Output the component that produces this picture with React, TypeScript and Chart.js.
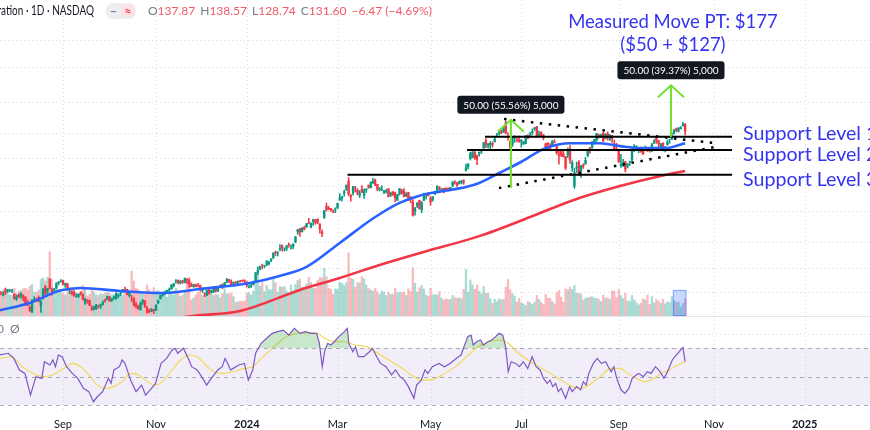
import React, { useEffect, useRef } from 'react';
import { Chart, registerables } from 'chart.js';
Chart.register(...registerables);

// ---------- data ----------
// x = trading-day index, day 0 = 1 Sep 2023. First candle = 25 Jul 2023 (day -28).
const FIRST_DAY = -28;
// [open, high, low, close]
const candles: number[][] = [
  // Jul 2023 (5)
  [45.7,46.3,45.1,45.6],[45.2,46.1,44.9,45.5],[46.8,47.3,45.3,45.9],[46.4,46.9,45.8,46.7],[46.7,46.9,46.1,46.7],
  // Aug 2023 (23)
  [46.4,46.9,45.9,46.5],[45.5,45.6,43.9,44.2],[44.0,45.2,43.6,44.7],[45.1,45.6,44.4,44.7],[45.1,45.9,44.2,45.5],
  [45.0,45.2,43.5,44.6],[44.6,44.7,42.3,42.5],[43.1,43.8,42.1,42.3],[41.7,42.1,40.6,40.9],[40.4,43.8,40.3,43.7],
  [43.8,44.7,43.2,43.9],[43.7,44.3,43.4,43.5],[44.5,44.9,43.2,43.3],[42.1,43.6,40.3,43.3],[44.4,47.1,44.0,46.9],
  [47.7,48.1,45.3,45.6],[46.3,47.2,45.6,47.2],[50.2,50.2,47.0,47.1],[46.6,47.3,45.1,46.1],[46.7,47.2,46.0,46.9],
  [47.3,49.0,47.1,48.7],[48.9,49.3,48.3,49.2],[49.3,50.0,49.1,49.4],
  // Sep 2023 (20)
  [49.7,49.8,48.2,48.5],[48.3,48.9,47.5,48.5],[48.7,48.8,46.5,47.1],[46.2,46.8,45.6,46.2],[46.0,46.5,45.2,45.5],
  [46.0,46.4,44.8,45.1],[44.8,45.5,44.5,44.8],[44.8,45.6,44.4,45.4],[46.0,46.2,45.1,45.6],[45.4,45.5,43.7,43.9],
  [42.8,44.3,42.5,43.9],[43.8,43.8,42.8,43.6],[43.6,43.7,42.2,42.2],[41.6,42.1,40.9,41.0],[41.3,42.0,41.0,41.6],
  [41.2,42.5,41.1,42.3],[42.0,42.3,41.5,41.9],[42.2,42.6,41.4,42.5],[42.5,43.5,42.3,43.0],[43.8,44.0,43.1,43.5],
  // Oct 2023 (22)
  [44.0,44.9,43.8,44.8],[44.6,44.8,43.3,43.5],[43.6,44.2,43.3,44.1],[44.3,44.9,43.9,44.6],[44.1,45.8,43.9,45.7],
  [44.9,45.5,44.4,45.3],[45.6,46.0,45.0,45.7],[46.3,46.9,45.9,46.9],[47.0,47.6,46.5,46.9],[46.8,46.9,45.2,45.4],
  [45.0,46.1,44.6,46.0],[44.0,45.1,43.3,43.9],[43.9,44.5,42.0,42.2],[42.5,43.1,41.5,42.1],[42.0,42.2,41.1,41.3],
  [41.1,43.2,40.9,42.9],[43.1,43.9,42.5,43.6],[43.5,43.6,41.7,41.8],[41.4,41.9,40.1,40.3],[40.8,41.2,40.2,40.5],
  [40.7,41.4,40.5,41.1],[41.0,41.1,40.0,40.8],
  // Nov 2023 (21)
  [40.9,42.4,40.8,42.3],[42.9,43.7,42.7,43.5],[44.1,45.1,44.0,45.0],[45.0,45.8,44.8,45.7],[45.9,46.2,45.3,46.0],
  [46.1,46.7,45.9,46.6],[46.9,47.3,46.3,46.9],[47.0,48.3,46.9,48.3],[48.0,48.8,47.6,48.6],[49.5,50.0,48.8,49.6],
  [49.7,49.9,48.6,48.9],[49.0,49.7,48.5,49.4],[49.6,49.7,48.7,49.2],[49.0,50.5,48.9,50.4],[50.1,50.3,48.7,49.9],
  [49.6,50.2,47.5,48.7],[48.4,48.9,47.7,47.8],[47.8,48.5,47.5,48.3],[48.3,48.5,47.6,47.8],[48.2,48.8,47.6,48.1],
  [48.1,48.2,46.3,46.8],
  // Dec 2023 (20)
  [46.6,46.9,45.9,46.8],[45.6,45.6,44.7,45.5],[45.2,46.6,45.0,46.6],[46.8,46.9,45.5,45.5],[46.0,46.6,45.7,46.5],
  [46.0,47.6,45.9,47.5],[47.4,47.5,46.1,46.6],[46.3,47.7,46.2,47.6],[48.0,48.3,47.4,48.1],[48.4,48.6,47.1,48.3],
  [48.0,49.1,47.8,48.9],[49.2,50.4,49.0,50.0],[50.0,50.1,49.0,49.6],[49.3,49.9,48.1,48.1],[48.8,49.2,48.0,49.0],
  [49.1,49.4,48.5,48.8],[48.9,49.6,48.5,49.3],[49.5,49.7,49.1,49.4],[49.6,49.9,49.3,49.5],[49.8,49.9,48.8,49.5],
  // Jan 2024 (21)
  [49.2,49.3,47.6,48.2],[47.5,48.2,47.3,47.6],[47.8,48.5,47.5,48.0],[48.5,49.5,48.2,49.1],[49.5,52.3,49.5,52.3],
  [52.5,54.3,51.7,53.1],[53.6,54.6,53.2,54.3],[54.9,55.3,53.6,54.8],[54.6,54.9,54.0,54.7],[55.0,56.6,54.7,56.4],
  [55.5,56.3,55.0,56.0],[56.6,57.3,56.2,57.1],[57.7,59.5,57.3,59.5],[59.8,60.2,58.5,59.6],[59.5,59.9,58.3,59.9],
  [61.0,62.8,60.4,61.3],[62.3,62.7,60.2,61.6],[60.9,61.5,60.2,61.0],[61.3,62.5,60.4,62.4],[62.9,63.4,61.8,62.8],
  [61.4,62.7,61.0,61.5],
  // Feb 2024 (20)
  [62.1,63.2,61.2,63.0],[64.0,66.2,63.6,66.1],[68.2,69.4,67.1,69.3],[69.6,69.9,66.3,68.2],[68.3,70.2,68.2,70.0],
  [70.2,70.9,69.2,69.6],[70.5,72.1,70.3,72.1],[72.6,74.6,72.0,72.3],[70.4,72.4,70.0,72.1],[73.2,74.2,71.2,73.9],
  [73.9,74.0,71.7,72.6],[74.1,74.4,72.0,72.6],[71.9,71.9,67.7,69.4],[68.2,69.2,66.2,67.5],[75.0,78.5,74.5,78.5],
  [80.7,82.4,78.2,78.9],[79.7,80.6,78.9,79.1],[79.3,79.6,78.0,78.7],[77.9,78.9,77.4,77.6],[79.0,79.9,77.4,79.1],
  // Mar 2024 (20)
  [80.0,82.3,79.4,82.3],[84.1,87.7,83.9,85.2],[85.2,86.1,83.4,85.9],[88.0,89.7,86.2,88.7],[90.2,92.7,89.5,92.7],
  [95.2,97.4,86.5,87.5],[86.4,87.2,83.4,85.8],[88.0,91.9,86.8,91.9],[91.0,91.9,88.6,90.9],[89.5,90.6,86.8,87.9],
  [86.9,89.5,85.4,87.9],[90.3,92.4,88.4,88.4],[86.7,90.5,85.0,89.4],[89.8,90.4,88.3,90.4],[92.5,92.8,90.8,91.4],
  [91.1,94.7,91.0,94.3],[93.9,96.8,93.9,95.0],[95.8,96.4,92.5,92.6],[93.1,93.2,89.3,90.3],[90.0,91.2,89.2,90.4],
  // Apr 2024 (22)
  [90.3,92.3,89.3,90.3],[88.4,89.5,87.7,89.4],[88.5,90.3,88.1,88.9],[90.4,90.7,85.8,85.9],[86.9,88.5,86.0,88.0],
  [88.7,88.8,86.5,87.1],[88.1,88.5,83.0,85.3],[83.9,87.3,83.8,87.0],[87.4,90.7,86.8,90.6],[89.7,90.1,87.4,88.1],
  [89.1,90.6,85.8,86.0],[86.5,88.2,86.0,87.4],[88.3,88.4,83.8,84.0],[84.9,86.1,82.6,84.7],[83.1,84.3,75.6,76.2],
  [78.1,80.1,76.2,79.5],[80.9,82.7,80.0,82.4],[83.9,84.0,79.1,79.6],[78.9,83.3,77.4,82.6],[83.9,88.0,83.7,87.7],
  [87.5,88.0,84.5,87.7],[87.2,88.2,86.4,86.4],
  // May 2024 (22)
  [85.0,86.0,81.2,83.0],[84.5,86.0,83.4,85.8],[87.8,89.2,87.1,88.8],[89.0,92.2,88.9,92.1],[91.0,91.8,89.7,90.6],
  [89.5,90.8,89.0,90.4],[90.7,90.8,88.1,88.7],[90.6,91.2,89.3,89.9],[90.7,91.0,89.2,90.4],[90.0,91.4,89.2,91.3],
  [92.2,94.8,91.8,94.6],[94.5,95.5,93.2,94.4],[94.3,94.4,91.9,92.5],[93.8,95.2,93.2,94.8],[94.3,95.4,93.4,95.4],
  [95.4,96.0,93.2,94.9],[102.0,106.3,101.5,103.8],[104.4,106.5,103.0,106.5],[110.2,114.9,109.2,114.0],[111.3,115.5,110.8,115.0],
  [114.7,115.8,109.7,110.5],[112.5,112.7,106.0,109.6],
  // Jun 2024 (19)
  [113.6,115.0,112.0,115.0],[115.7,116.6,114.0,116.4],[118.4,122.4,117.5,122.4],[124.0,125.6,118.3,120.9],[119.8,121.7,118.0,120.9],
  [120.4,123.1,117.0,121.8],[121.8,122.9,118.7,120.9],[123.1,126.9,122.8,125.2],[129.4,129.8,127.1,129.6],[129.9,132.9,128.7,131.9],
  [132.0,133.7,129.6,131.0],[131.1,136.3,130.7,135.6],[139.8,140.8,129.5,130.8],[127.1,130.6,124.3,126.6],[123.2,124.5,118.0,118.1],
  [121.2,126.5,119.3,126.1],[126.1,128.1,122.6,126.4],[124.1,126.4,122.9,124.0],[124.6,127.7,122.6,123.5],
  // Jul 2024 (22)
  [123.5,124.8,118.8,124.3],[121.1,123.4,121.0,122.7],[121.7,128.3,121.4,128.3],[127.4,128.9,125.7,125.8],[127.5,130.8,127.0,128.2],
  [130.4,133.8,128.7,131.4],[134.0,135.1,132.4,134.9],[135.8,136.2,127.0,127.4],[128.3,131.9,127.2,129.2],[130.6,131.4,127.2,128.4],
  [128.4,129.0,124.6,126.4],[121.4,121.9,116.7,118.0],[121.9,122.4,116.7,121.1],[120.3,121.6,117.4,117.9],[120.4,124.1,119.9,123.5],
  [122.8,124.7,122.1,122.6],[119.2,119.9,113.4,114.3],[113.0,116.6,106.3,112.3],[116.2,116.2,111.6,113.1],[113.7,116.3,111.3,111.6],
  [111.5,111.9,102.5,103.7],[112.9,118.3,110.9,117.0],
  // Aug 2024 (22)
  [117.5,120.2,106.8,109.2],[103.8,108.7,101.4,107.3],[92.1,103.4,90.7,100.5],[103.8,107.7,100.6,104.3],[107.8,108.8,98.7,98.9],
  [102.0,105.5,97.5,105.0],[105.6,106.6,103.4,104.8],[106.3,111.1,106.3,109.0],[112.4,116.2,111.6,116.1],[118.5,118.6,114.1,118.1],
  [118.8,123.2,117.7,122.9],[121.9,125.0,121.2,124.6],[124.3,130.0,123.4,130.0],[128.4,129.3,126.0,127.3],[127.3,129.4,126.5,128.5],
  [130.0,130.8,123.1,123.7],[125.9,129.6,125.2,129.4],[129.6,131.3,124.4,126.5],[125.1,129.2,123.9,128.3],[128.1,128.3,122.6,125.6],
  [121.4,124.4,116.7,117.6],[119.5,121.8,117.2,119.4],
  // Sep 2024 (20)
  [116.0,116.2,107.3,108.0],[105.4,113.3,104.1,106.2],[105.0,109.7,104.8,107.2],[108.0,108.2,101.0,102.8],[104.9,106.6,103.7,106.5],
  [107.8,108.4,105.4,108.1],[109.4,117.2,107.4,116.9],[116.8,120.8,115.4,119.1],[119.1,120.0,117.6,119.1],[116.8,118.2,114.4,117.0],
  [118.2,118.8,114.8,115.6],[115.9,117.7,113.2,113.4],[117.4,119.7,117.2,117.9],[117.1,118.6,115.4,116.0],[116.6,117.0,114.9,116.3],
  [116.5,121.8,115.4,120.9],[122.0,124.9,121.6,123.5],[126.8,127.7,121.8,124.0],[124.0,124.0,119.3,121.4],[118.3,121.5,118.2,121.4],
  // Oct 2024 (11)
  [121.8,122.4,115.8,117.0],[116.4,119.4,115.1,118.85],[120.9,124.4,120.3,122.85],[124.9,125.0,121.8,124.9],[125.0,130.6,124.9,127.7],
  [130.3,133.5,129.4,132.9],[134.1,134.5,131.4,132.65],[131.9,135.0,131.0,134.8],[134.0,135.8,133.7,134.8],[136.5,139.6,136.3,138.07],
  [137.87,138.57,128.74,131.6],
];

// daily volume, millions of shares
const volumes: number[] = [
  360,470,430,390,380,
  370,500,400,450,460,490,500,470,540,570,430,430,470,660,690,630,700,1160,660,400,550,480,450,
  410,380,430,450,470,480,420,380,360,550,490,360,390,490,440,380,370,400,390,410,
  430,410,380,390,400,370,360,380,430,480,370,810,630,500,480,410,410,400,560,470,420,510,
  440,460,420,400,460,340,450,440,380,500,450,350,380,450,650,700,290,330,380,430,420,
  370,440,370,400,390,370,390,380,330,410,490,400,400,420,350,250,250,270,260,270,
  410,420,380,450,640,770,540,600,440,550,480,470,690,600,430,530,520,530,450,410,560,
  450,570,640,670,520,520,580,700,600,500,500,640,700,690,860,710,500,480,390,490,
  480,610,590,550,610,1140,680,660,520,600,600,710,670,560,500,470,450,500,430,390,
  450,430,370,430,390,390,500,420,430,420,430,370,490,440,870,590,430,510,550,490,380,360,
  500,380,390,380,440,320,290,310,300,300,370,330,320,330,310,480,840,430,650,560,480,560,
  450,400,530,410,410,310,230,300,260,310,290,300,520,660,470,400,360,250,320,
  240,220,190,260,240,210,250,370,300,250,210,390,320,320,260,220,420,460,340,250,490,470,
  520,480,550,410,410,390,290,320,330,340,350,320,320,300,260,380,320,330,300,450,450,330,
  480,370,310,410,270,270,370,290,240,200,230,310,290,380,210,350,240,300,270,230,
  300,220,260,240,350,280,250,250,170,230,310,
];

// 50-day and 200-day moving averages [day, value]
const ma50: number[][] = [
  [-28.5,40.9],[-15,42.9],[-1.4,46.5],[8,47.3],[26,46.4],[46,45.8],[62,47.0],[84.5,48.9],[97,51],[110,54.3],
  [125,63.5],[140,74.5],[152,82.5],[161,86.5],[170,88.8],[182,91.5],[188,94],[197,100.3],[206,107.1],
  [218,118.0],[229,121.9],[242.5,121.9],[251.6,119.6],[260.6,118.0],[271.9,118.0],[281,121.9],
];
const ma200: number[][] = [
  [40,37.8],[58.7,39.4],[80,40.7],[107,46.7],[125,50.5],[143,55.0],[161,59.4],[188,66.4],[211,75.2],
  [230.4,84.0],[251.6,92.1],[271.9,99.0],[281,101.6],
];

// RSI(14) and its moving average [day, value]
const rsi: number[][] = [
  [-28.5,65.1],[-24.7,66.3],[-22.2,62.7],[-19.7,54.6],[-17.2,52.2],[-14.7,37.0],[-12.2,49.9],[-9.6,48.7],[-8.4,60.4],
  [-5.9,58.1],[-4.6,61.6],[-3.4,56.9],[-2.1,65.1],[-0.4,63.9],[1.6,56.9],[4.2,52.2],[6.7,48.7],[9.2,41.7],[11.7,39.4],
  [13.7,32.3],[15.5,35.8],[17.9,39.4],[20.5,48.7],[21.7,45.2],[23.0,54.6],[25.5,56.9],[26.7,61.6],[28.0,59.2],[30.5,47.5],
  [33.0,39.4],[35.5,44.0],[37.3,37.0],[39.3,40.5],[41.8,45.2],[44.3,59.2],[46.8,62.7],[49.3,68.6],[50.6,69.8],[51.8,66.3],
  [54.4,69.8],[56.9,61.6],[58.1,56.9],[60.6,54.6],[63.1,48.7],[64.9,44.0],[66.4,47.5],[68.2,51.1],[69.9,54.6],[71.9,56.9],
  [73.2,62.7],[74.4,59.2],[75.7,54.6],[76.9,55.7],[79.4,58.1],[81.9,59.2],[83.7,47.5],[85.7,54.6],[87.0,66.3],[89.5,73.3],
  [92.0,76.8],[94.5,80.3],[97.0,81.5],[99.5,82.6],[102.0,79.1],[104.5,83.8],[107.0,80.3],[109.5,81.5],[112.1,80.3],[114.6,80.3],
  [115.8,73.3],[117.1,56.9],[118.3,68.6],[119.6,73.3],[120.9,72.1],[122.1,73.7],[124.6,78.0],[127.1,81.5],[128.4,83.8],[129.1,73.3],
  [130.9,67.4],[132.1,70.9],[133.4,63.9],[135.9,63.9],[138.4,67.4],[139.7,69.8],[141.7,63.9],[143.4,59.2],[145.9,56.9],[148.4,51.1],
  [150.2,54.6],[152.2,49.9],[154.2,47.5],[156.0,42.9],[158.5,34.7],[159.7,44.0],[161.8,47.5],[163.5,54.6],[164.8,52.2],[166.8,56.9],
  [169.8,59.2],[172.3,56.9],[174.8,59.2],[176.8,61.6],[178.6,63.9],[179.8,65.1],[181.1,70.9],[182.8,78.0],[184.3,79.1],[185.3,72.1],
  [186.8,74.4],[188.6,75.6],[189.9,72.1],[191.9,74.4],[193.6,75.6],[195.4,78.0],[196.9,80.3],[198.6,79.1],[199.9,70.9],[201.1,53.4],
  [202.4,60.4],[204.4,59.2],[206.2,56.9],[207.9,60.4],[209.9,55.7],[211.9,63.9],[213.7,56.9],[215.5,54.6],[217.0,48.7],[218.7,45.2],
  [220.0,47.5],[221.2,42.9],[222.5,45.2],[223.7,39.4],[225.0,41.7],[227.0,34.7],[228.8,42.9],[230.0,39.4],[232.0,42.9],[233.8,40.5],
  [235.0,46.4],[236.3,44.0],[237.5,52.2],[239.5,59.2],[241.3,62.7],[243.1,59.2],[245.1,60.4],[246.3,56.9],[247.6,53.4],[248.8,56.9],
  [250.1,48.7],[252.1,40.5],[253.8,38.2],[255.6,41.7],[257.1,48.7],[258.9,51.1],[260.1,52.2],[262.1,49.9],[263.9,53.4],[265.6,52.2],
  [267.6,56.9],[269.7,53.4],[271.4,48.7],[272.7,52.2],[275.2,61.6],[276.4,63.9],[277.7,66.3],[280,70.5],[281,60.4],
];
const rsiMa: number[][] = [
  [-28.5,62.7],[-23.4,63.9],[-18.4,56.9],[-13.4,52.2],[-8.4,49.9],[-3.4,52.2],[1.6,56.9],[4.2,59.2],[7.9,56.9],[11.7,51.1],
  [15.5,44.0],[19.2,41.7],[23.0,42.9],[26.7,46.4],[30.5,52.2],[34.3,51.1],[38.0,46.4],[41.8,44.0],[45.6,47.5],[49.3,54.6],
  [53.1,61.6],[56.9,65.1],[60.6,63.9],[64.4,58.1],[68.2,53.4],[71.9,52.2],[76.9,53.4],[81.9,55.7],[85.7,56.9],[88.2,60.4],
  [92.0,66.3],[97.0,73.3],[100.8,78.0],[105.8,80.3],[110.8,80.8],[114.6,80.3],[118.3,76.8],[122.1,74.4],[127.1,74.4],[132.1,72.1],
  [137.2,70.9],[142.2,66.3],[147.2,61.6],[152.2,56.9],[157.2,51.1],[162.3,47.5],[167.3,48.0],[172.3,52.2],[177.3,56.9],[182.3,63.9],
  [187.4,70.9],[192.4,74.4],[197.4,75.6],[201.1,73.3],[204.9,67.4],[209.9,61.6],[215.0,56.9],[220.0,52.2],[225.0,47.5],[230.0,42.9],
  [233.8,41.7],[237.5,44.0],[242.6,49.9],[247.6,55.7],[251.3,55.7],[255.1,52.2],[258.9,48.7],[262.6,46.4],[266.4,48.0],[270.2,52.2],
  [273.9,54.6],[277.7,58.1],[281,60.4],
];

// time axis
const monthTickDays = [0, 42, 83, 124, 166, 207, 251, 294, 335];
const monthTickLabels = ['Sep', 'Nov', '2024', 'Mar', 'May', 'Jul', 'Sep', 'Nov', '2025'];
const priceGrid = [240, 200, 160, 130, 111, 92, 78, 64, 54, 46];

// drawings
const supportPrices = [127.1, 116.5, 99.1];
const supportStartDays = [190.6, 182.5, 128.5];
const supportEndDay = 302.2;
const supportLabels = ['Support Level 1', 'Support Level 2', 'Support Level 3'];
const trendUpper: number[][] = [[199.2, 142.7], [294.5, 122.0]];
const trendLower: number[][] = [[196.9, 90.9], [294.5, 118.9]];
const moveDays = [202.3, 274.6];
const moveFrom = [91, 127];
const moveTo = [142, 178];
const moveLabels = ['50.00 (55.56%) 5,000', '50.00 (39.37%) 5,000'];
const targetText = ['Measured Move PT: $177', '($50 + $127)'];
const highlightDays = [275.5, 281.6];
const highlightVolume = 470;
const symbolTitle = 'NVIDIA Corporation · 1D · NASDAQ';

// ---------- scale ranges ----------
const X_MIN = -28.46, X_MAX = 364.5;
const PRICE_MIN = 39.39, PRICE_MAX = 310.8;
const VOL_MAX = 5700;
const RSI_MIN = 25.1, RSI_MAX = 92.46;

const UP = '#089981', DOWN = '#f23645';
const BLUE_TXT = '#3434f0';
const ARROW = '#6fe02f';
const FONT = 'Lato, "Liberation Sans", sans-serif';

function roundRect(ctx: CanvasRenderingContext2D, x: number, y: number, w: number, h: number, r: number) {
  ctx.beginPath();
  ctx.moveTo(x + r, y);
  ctx.lineTo(x + w - r, y);
  ctx.quadraticCurveTo(x + w, y, x + w, y + r);
  ctx.lineTo(x + w, y + h - r);
  ctx.quadraticCurveTo(x + w, y + h, x + w - r, y + h);
  ctx.lineTo(x + r, y + h);
  ctx.quadraticCurveTo(x, y + h, x, y + h - r);
  ctx.lineTo(x, y + r);
  ctx.quadraticCurveTo(x, y, x + r, y);
  ctx.closePath();
}

export default function App() {
  const priceRef = useRef<HTMLCanvasElement>(null);
  const rsiRef = useRef<HTMLCanvasElement>(null);

  useEffect(() => {
    const days = candles.map((_, i) => FIRST_DAY + i);
    const isUp = candles.map((c) => c[3] >= c[0]);
    const candleColors = isUp.map((u) => (u ? UP : DOWN));
    const volColors = isUp.map((u) => (u ? 'rgba(8,153,129,0.35)' : 'rgba(242,54,69,0.35)'));
    const pts = (arr: number[][]) => arr.map((p) => ({ x: p[0], y: p[1] }));

    const supportSets = supportPrices.map((p, i) => ({
      type: 'line' as const,
      data: [{ x: supportStartDays[i], y: p }, { x: supportEndDay, y: p }],
      borderColor: '#000000',
      borderWidth: 2,
      pointRadius: 0,
      yAxisID: 'y',
      order: 1,
    }));

    const pricePlugin = {
      id: 'priceDeco',
      beforeDatasetsDraw(chart: any) {
        const { ctx, scales } = chart;
        const x = scales.x, y = scales.y;
        ctx.save();
        ctx.strokeStyle = 'rgba(170,176,194,0.45)';
        ctx.lineWidth = 1;
        ctx.setLineDash([1, 3]);
        priceGrid.forEach((p) => {
          const py = Math.round(y.getPixelForValue(p)) + 0.5;
          ctx.beginPath(); ctx.moveTo(0, py); ctx.lineTo(870, py); ctx.stroke();
        });
        monthTickDays.forEach((d) => {
          const px = Math.round(x.getPixelForValue(d)) + 0.5;
          ctx.beginPath(); ctx.moveTo(px, 0); ctx.lineTo(px, 316); ctx.stroke();
        });
        ctx.restore();
      },
      afterDatasetsDraw(chart: any) {
        const { ctx, scales } = chart;
        const x = scales.x, y = scales.y, yv = scales.yv;
        ctx.save();
        // volume highlight
        const hx0 = x.getPixelForValue(highlightDays[0]);
        const hx1 = x.getPixelForValue(highlightDays[1]);
        const hy = yv.getPixelForValue(highlightVolume);
        const hb = yv.getPixelForValue(0);
        ctx.fillStyle = 'rgba(41,98,255,0.25)';
        ctx.fillRect(hx0, hy, hx1 - hx0, hb - hy);
        ctx.strokeStyle = 'rgba(41,98,255,0.45)';
        ctx.lineWidth = 1;
        ctx.strokeRect(hx0 + 0.5, hy + 0.5, hx1 - hx0 - 1, hb - hy - 1);

        // measured move arrows + labels
        moveDays.forEach((d, i) => {
          const px = x.getPixelForValue(d);
          const y0 = y.getPixelForValue(moveFrom[i]);
          const y1 = y.getPixelForValue(moveTo[i]);
          ctx.strokeStyle = ARROW;
          ctx.lineWidth = 2;
          ctx.setLineDash([]);
          ctx.beginPath(); ctx.moveTo(px, y0); ctx.lineTo(px, y1); ctx.stroke();
          ctx.beginPath();
          ctx.moveTo(px - 13, y1 + 12); ctx.lineTo(px, y1); ctx.lineTo(px + 13, y1 + 12);
          ctx.stroke();
          // label box
          ctx.font = `10px ${FONT}`;
          const bw = Math.max(98, ctx.measureText(moveLabels[i]).width + 12), bh = 18;
          const by = y1 - 6 - bh;
          ctx.fillStyle = '#131722';
          roundRect(ctx, px - bw / 2, by, bw, bh, 3);
          ctx.fill();
          ctx.fillStyle = '#ffffff';
          ctx.textAlign = 'center';
          ctx.textBaseline = 'middle';
          ctx.fillText(moveLabels[i], px, by + bh / 2 + 0.5);
        });

        // target text
        const tx = x.getPixelForValue(moveDays[1]) + 2;
        ctx.fillStyle = BLUE_TXT;
        ctx.font = `18.5px ${FONT}`;
        ctx.textAlign = 'center';
        ctx.textBaseline = 'alphabetic';
        ctx.fillText(targetText[0], tx, 28);
        ctx.fillText(targetText[1], tx, 51);

        // support labels
        const offs = [3, 11, 11];
        ctx.font = `19.6px ${FONT}`;
        ctx.textAlign = 'left';
        supportPrices.forEach((p, i) => {
          const lx = x.getPixelForValue(supportEndDay) + 11;
          const ly = y.getPixelForValue(p) + offs[i];
          ctx.fillText(supportLabels[i], lx, ly);
        });

        // header (title, horizontally condensed like the narrow UI font)
        ctx.textBaseline = 'middle';
        ctx.font = `12.5px ${FONT}`;
        ctx.fillStyle = '#131722';
        ctx.textAlign = 'right';
        ctx.save();
        ctx.translate(94, 11);
        ctx.scale(0.8, 1);
        ctx.fillText(symbolTitle, 0, 0);
        ctx.restore();
        // pill
        ctx.fillStyle = '#eceef2';
        roundRect(ctx, 106, 3, 30, 16, 8);
        ctx.fill();
        ctx.fillStyle = '#fbe3e5';
        roundRect(ctx, 121, 4, 14, 14, 7);
        ctx.fill();
        ctx.textAlign = 'center';
        ctx.font = `bold 12px ${FONT}`;
        ctx.fillStyle = '#787b86';
        ctx.fillText('−', 113.5, 11);
        ctx.fillStyle = DOWN;
        ctx.fillText('≈', 128, 11);
        // OHLC
        const last = candles[candles.length - 1];
        const prev = candles[candles.length - 2][3];
        const chg = last[3] - prev;
        const pct = (chg / prev) * 100;
        const parts: [string, string][] = [
          ['O', last[0].toFixed(2)], ['H', last[1].toFixed(2)], ['L', last[2].toFixed(2)], ['C', last[3].toFixed(2)],
          ['', `${chg < 0 ? '−' : '+'}${Math.abs(chg).toFixed(2)} (${pct < 0 ? '−' : '+'}${Math.abs(pct).toFixed(2)}%)`],
        ];
        ctx.font = `12px ${FONT}`;
        ctx.textAlign = 'left';
        let cx = 148;
        parts.forEach(([k, v]) => {
          ctx.fillStyle = '#787b86';
          ctx.fillText(k, cx, 11);
          cx += ctx.measureText(k).width;
          ctx.fillStyle = '#f05a67';
          ctx.fillText(v, cx, 11);
          cx += ctx.measureText(v).width + 5;
        });
        ctx.restore();
      },
    };

    const priceChart = new Chart(priceRef.current as HTMLCanvasElement, {
      type: 'bar',
      data: {
        datasets: [
          {
            type: 'line', data: pts(trendUpper), borderColor: '#000', borderWidth: 2.5, borderDash: [2.5, 6.5],
            pointRadius: 0, yAxisID: 'y', order: 0,
          } as any,
          {
            type: 'line', data: pts(trendLower), borderColor: '#000', borderWidth: 2.5, borderDash: [2.5, 6.5],
            pointRadius: 0, yAxisID: 'y', order: 0,
          } as any,
          ...supportSets,
          {
            type: 'line', data: pts(ma50), borderColor: '#2962ff', borderWidth: 2.6, pointRadius: 0,
            cubicInterpolationMode: 'monotone', yAxisID: 'y', order: 2,
          } as any,
          {
            type: 'line', data: pts(ma200), borderColor: '#f23645', borderWidth: 2.6, pointRadius: 0,
            cubicInterpolationMode: 'monotone', yAxisID: 'y', order: 3,
          } as any,
          {
            type: 'bar', data: candles.map((c, i) => ({ x: days[i], y: [Math.min(c[0], c[3]), Math.max(c[0], c[3])] })),
            backgroundColor: candleColors, barThickness: 1.7, grouped: false, yAxisID: 'y', order: 4, borderWidth: 0,
          } as any,
          {
            type: 'bar', data: candles.map((c, i) => ({ x: days[i], y: [c[2], c[1]] })),
            backgroundColor: candleColors, barThickness: 0.9, grouped: false, yAxisID: 'y', order: 5, borderWidth: 0,
          } as any,
          {
            type: 'bar', data: volumes.map((v, i) => ({ x: days[i], y: v })),
            backgroundColor: volColors, barThickness: 1.6, grouped: false, yAxisID: 'yv', order: 10, borderWidth: 0,
          } as any,
        ],
      },
      options: {
        responsive: false,
        maintainAspectRatio: false,
        animation: false,
        events: [],
        layout: { padding: 0 },
        plugins: { legend: { display: false }, tooltip: { enabled: false } },
        scales: {
          x: { type: 'linear', min: X_MIN, max: X_MAX, display: false, offset: false },
          y: { type: 'logarithmic', min: PRICE_MIN, max: PRICE_MAX, display: false, bounds: 'data' },
          yv: { type: 'linear', min: 0, max: VOL_MAX, display: false },
        },
      } as any,
      plugins: [pricePlugin],
    });

    const rsiPlugin = {
      id: 'rsiDeco',
      beforeDatasetsDraw(chart: any) {
        const { ctx, scales, chartArea } = chart;
        const x = scales.x, y = scales.y;
        ctx.save();
        // separator
        ctx.fillStyle = '#e6e3ee';
        ctx.fillRect(0, 0, 870, 1);
        const y70 = y.getPixelForValue(70), y30 = y.getPixelForValue(30), y50 = y.getPixelForValue(50);
        ctx.fillStyle = 'rgba(126,87,194,0.1)';
        ctx.fillRect(0, y70, 870, y30 - y70);
        ctx.strokeStyle = 'rgba(170,176,194,0.45)';
        ctx.lineWidth = 1;
        ctx.setLineDash([1, 3]);
        const y80 = Math.round(y.getPixelForValue(80)) + 0.5;
        ctx.beginPath(); ctx.moveTo(0, y80); ctx.lineTo(870, y80); ctx.stroke();
        monthTickDays.forEach((d) => {
          const px = Math.round(x.getPixelForValue(d)) + 0.5;
          ctx.beginPath(); ctx.moveTo(px, chartArea.top); ctx.lineTo(px, chartArea.bottom); ctx.stroke();
        });
        ctx.strokeStyle = 'rgba(120,123,134,0.6)';
        ctx.setLineDash([4, 4]);
        [y70, y50, y30].forEach((yy) => {
          const py = Math.round(yy) + 0.5;
          ctx.beginPath(); ctx.moveTo(0, py); ctx.lineTo(870, py); ctx.stroke();
        });
        ctx.setLineDash([]);
        ctx.fillStyle = '#787b86';
        ctx.font = `12px ${FONT}`;
        ctx.textBaseline = 'middle';
        ctx.textAlign = 'left';
        ctx.fillText('0  Ø', -3, 13);
        ctx.restore();
      },
      afterDraw(chart: any) {
        const { ctx, scales } = chart;
        const x = scales.x;
        ctx.save();
        ctx.fillStyle = '#131722';
        ctx.textAlign = 'center';
        ctx.textBaseline = 'middle';
        monthTickDays.forEach((d, i) => {
          const lbl = monthTickLabels[i];
          ctx.font = /^\d{4}$/.test(lbl) ? `bold 11px ${FONT}` : `11px ${FONT}`;
          ctx.fillText(lbl, x.getPixelForValue(d), 108);
        });
        ctx.restore();
      },
    };

    const rsiChart = new Chart(rsiRef.current as HTMLCanvasElement, {
      type: 'line',
      data: {
        datasets: [
          {
            data: pts(rsi), borderColor: '#7e57c2', borderWidth: 1.2, pointRadius: 0, tension: 0,
            fill: { target: { value: 70 }, above: 'rgba(76,175,80,0.3)', below: 'rgba(0,0,0,0)' }, order: 0,
          } as any,
          {
            data: pts(rsiMa), borderColor: '#f2d84e', borderWidth: 1.1, pointRadius: 0,
            cubicInterpolationMode: 'monotone', fill: false, order: 1,
          } as any,
        ],
      },
      options: {
        responsive: false,
        maintainAspectRatio: false,
        animation: false,
        events: [],
        layout: { padding: { left: 0, right: 0, top: 0, bottom: 18 } },
        plugins: { legend: { display: false }, tooltip: { enabled: false } },
        scales: {
          x: { type: 'linear', min: X_MIN, max: X_MAX, display: false },
          y: { type: 'linear', min: RSI_MIN, max: RSI_MAX, display: false },
        },
      } as any,
      plugins: [rsiPlugin],
    });

    return () => {
      priceChart.destroy();
      rsiChart.destroy();
    };
  }, []);

  return (
    <div style={{ position: 'absolute', left: 0, top: 0, width: 870, height: 430, background: '#ffffff' }}>
      <canvas ref={priceRef} width={870} height={316} style={{ display: 'block' }} />
      <canvas ref={rsiRef} width={870} height={114} style={{ display: 'block' }} />
    </div>
  );
}
